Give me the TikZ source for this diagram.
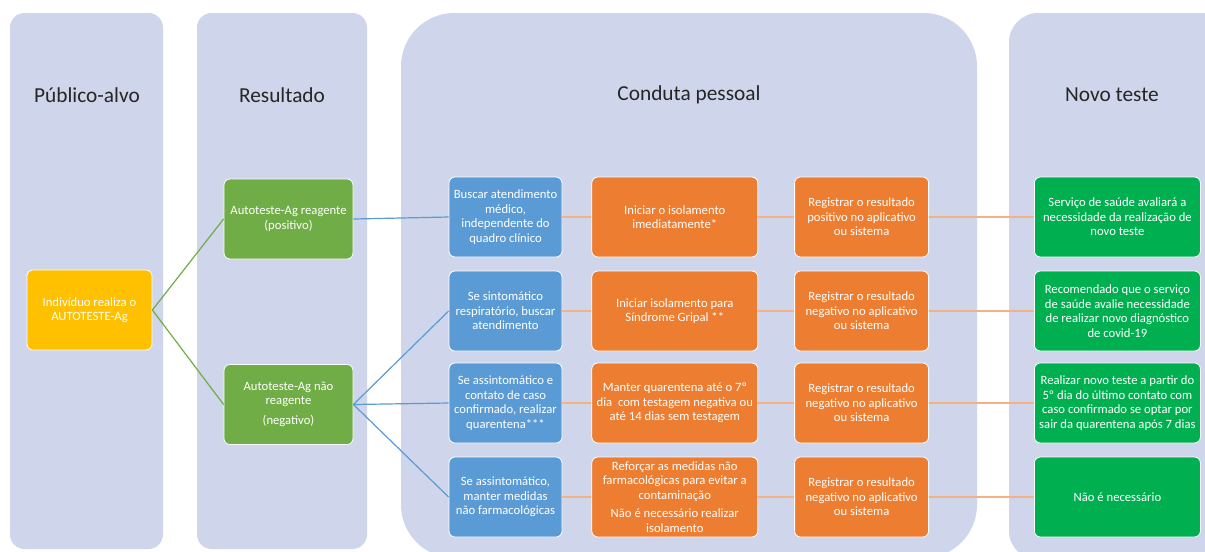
\documentclass[tikz,border=0pt]{standalone}
\usepackage{fontspec}
\setmainfont{Carlito}
\usetikzlibrary{positioning}

\definecolor{lanebg}{HTML}{CFD5EA}
\definecolor{ambar}{HTML}{FFC000}
\definecolor{verdebox}{HTML}{70AD47}
\definecolor{azul}{HTML}{5B9BD5}
\definecolor{laranja}{HTML}{ED7D31}
\definecolor{laranjaclaro}{HTML}{F4B183}
\definecolor{verdenovo}{HTML}{00B050}

\tikzset{
  lane/.style={fill=lanebg, draw=none},
  header/.style={font=\fontsize{16}{19}\selectfont, text=black!85},
  box/.style={draw=white, line width=0.6pt, rounded corners=4.5pt, text=white, align=center,
    font=\fontsize{9.5}{10.9}\selectfont, inner sep=0.5pt, minimum height=60pt},
  alvobox/.style={box, fill=ambar, minimum width=93.75pt},
  resbox/.style={box, fill=verdebox, minimum width=96.75pt},
  buscabox/.style={box, fill=azul, minimum width=84.75pt},
  condbox/.style={box, fill=laranja, minimum width=124.5pt},
  regbox/.style={box, fill=laranja, minimum width=100.5pt},
  testebox/.style={box, fill=verdenovo, minimum width=124.5pt},
  verdelink/.style={draw=verdebox, line width=0.9pt},
  azullink/.style={draw=azul, line width=0.9pt},
  laranjalink/.style={draw=laranjaclaro, line width=0.9pt}
}

\begin{document}
\begin{tikzpicture}[x=0.75pt, y=-0.75pt]
    \clip (0,0) rectangle (1205,551);
    \fill[white] (0,0) rectangle (1205,551);

    % Swim lanes
    \fill[lane, rounded corners=11pt] (10,13) rectangle (163,549);
    \fill[lane, rounded corners=11pt] (197,13) rectangle (367,549);
    \fill[lane, rounded corners=40pt] (401,13) rectangle (977,558);
    \fill[lane, rounded corners=22pt] (1009,13) rectangle (1260,560);

    % Lane titles
    \node[header] (hpub) at (87,95) {Público-alvo};
    \node[header] (hres) at (282,95) {Resultado};
    \node[header] (hcond) at (689,95) {Conduta pessoal};
    \node[header] (hnovo) at (1112,95) {Novo teste};

    % Publico-alvo
    \node[alvobox] (alvo) at (89.5,310) {Indivíduo realiza o\\AUTOTESTE-Ag};

    % Resultado
    \node[resbox] (pos) at (288.5,219) {Autoteste-Ag reagente\\(positivo)};
    \node[resbox] (neg) at (288.5,404.5) {Autoteste-Ag não\\reagente\\[4pt](negativo)};

    % Conduta pessoal - row 1
    \node[buscabox] (b1) at (505.5,217) {Buscar atendimento\\médico,\\independente do\\quadro clínico};
    \node[condbox, right=21.75pt of b1] (c1) {Iniciar o isolamento\\imediatamente*};
    \node[regbox, right=27pt of c1] (r1) {Registrar o resultado\\positivo no aplicativo\\ou sistema};
    \node[testebox, right=78.75pt of r1] (t1) {Serviço de saúde avaliará a\\necessidade da realização de\\novo teste};

    % row 2
    \node[buscabox] (b2) at (505.5,311) {Se sintomático\\respiratório, buscar\\atendimento};
    \node[condbox, right=21.75pt of b2] (c2) {Iniciar isolamento para\\Síndrome Gripal **};
    \node[regbox, right=27pt of c2] (r2) {Registrar o resultado\\negativo no aplicativo\\ou sistema};
    \node[testebox, right=78.75pt of r2] (t2) {Recomendado que o serviço\\de saúde avalie necessidade\\de realizar novo diagnóstico\\de covid-19};

    % row 3
    \node[buscabox] (b3) at (505.5,403) {Se assintomático e\\contato de caso\\confirmado, realizar\\quarentena***};
    \node[condbox, right=21.75pt of b3] (c3) {Manter quarentena até o 7º\\dia \ com testagem negativa ou\\até 14 dias sem testagem};
    \node[regbox, right=27pt of c3] (r3) {Registrar o resultado\\negativo no aplicativo\\ou sistema};
    \node[testebox, right=78.75pt of r3] (t3) {Realizar novo teste a partir do\\5º dia do último contato com\\caso confirmado se optar por\\sair da quarentena após 7 dias};

    % row 4
    \node[buscabox] (b4) at (505.5,497) {Se assintomático,\\manter medidas\\não farmacológicas};
    \node[condbox, right=21.75pt of b4] (c4) {Reforçar as medidas não\\farmacológicas para evitar a\\contaminação\\[3pt]Não é necessário realizar\\isolamento};
    \node[regbox, right=27pt of c4] (r4) {Registrar o resultado\\negativo no aplicativo\\ou sistema};
    \node[testebox, right=78.75pt of r4] (t4) {Não é necessário};

    % Connectors
    \draw[verdelink] (alvo.east) -- (pos.west);
    \draw[verdelink] (alvo.east) -- (neg.west);
    \draw[azullink] (pos.east) -- (b1.west);
    \foreach \b in {b2,b3,b4}
        \draw[azullink] (neg.east) -- (\b.west);
    \foreach \r in {1,2,3,4} {
        \draw[laranjalink] (b\r.east) -- (c\r.west);
        \draw[laranjalink] (c\r.east) -- (r\r.west);
        \draw[laranjalink] (r\r.east) -- (t\r.west);
    }
\end{tikzpicture}
\end{document}
